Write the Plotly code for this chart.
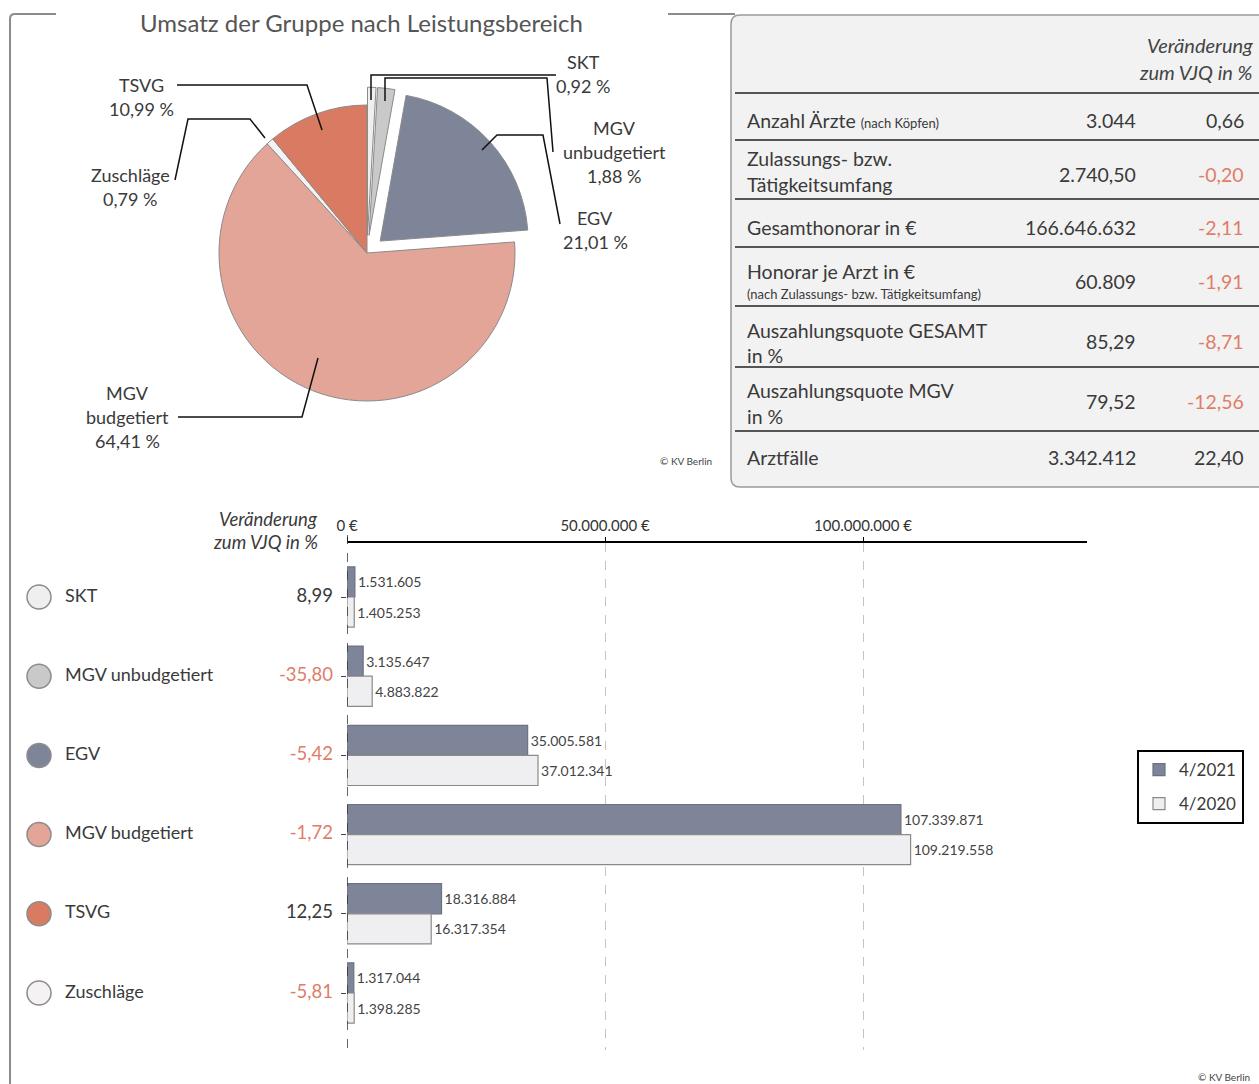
import plotly.graph_objects as go

W, H = 1259, 1084
FONT = "Lato"


def px(x):
    return x / W


def py(y):
    return 1 - y / H


def P(x, y):
    return f"{px(x):.5f},{py(y):.5f}"


# ---------------- data ----------------
pie_labels = ["SKT", "MGV unbudgetiert", "EGV", "MGV budgetiert", "Zuschläge", "TSVG"]
pie_shares = [0.92, 1.88, 21.01, 64.41, 0.79, 10.99]
pie_share_text = ["0,92 %", "1,88 %", "21,01 %", "64,41 %", "0,79 %", "10,99 %"]

categories = ["SKT", "MGV unbudgetiert", "EGV", "MGV budgetiert", "TSVG", "Zuschläge"]
values_2021 = [1531605, 3135647, 35005581, 107339871, 18316884, 1317044]
values_2020 = [1405253, 4883822, 37012341, 109219558, 16317354, 1398285]
change_pct = ["8,99", "-35,80", "-5,42", "-1,72", "12,25", "-5,81"]
series_names = ["4/2021", "4/2020"]
x_tick_vals = [0, 50000000, 100000000]
x_tick_text = ["0 €", "50.000.000 €", "100.000.000 €"]

table_labels = [
    ["Anzahl Ärzte <span style='font-size:13px'>(nach Köpfen)</span>"],
    ["Zulassungs- bzw.", "Tätigkeitsumfang"],
    ["Gesamthonorar in €"],
    ["Honorar je Arzt in €", "<span style='font-size:13px'>(nach Zulassungs- bzw. Tätigkeitsumfang)</span>"],
    ["Auszahlungsquote GESAMT", "in %"],
    ["Auszahlungsquote MGV", "in %"],
    ["Arztfälle"],
]
table_values = ["3.044", "2.740,50", "166.646.632", "60.809", "85,29", "79,52", "3.342.412"]
table_changes = ["0,66", "-0,20", "-2,11", "-1,91", "-8,71", "-12,56", "22,40"]

# ---------------- styles / layout positions ----------------
pie_colors = {"SKT": "#efefef", "MGV unbudgetiert": "#c9c9c9", "EGV": "#7f8598",
              "MGV budgetiert": "#e2a598", "Zuschläge": "#f4f2f2", "TSVG": "#d97b62"}
pie_pull = {"SKT": 0.12, "MGV unbudgetiert": 0.12, "EGV": 0.12}
NEG = "#e07d69"
TXT = "#3a3a3a"


def de_num(v):
    return f"{v:,}".replace(",", ".")


fig = go.Figure()

# ---------- pie ----------
pie_r = 148
max_pull = max(pie_pull.values())
box = pie_r * 2 * (1 + max_pull)
cx, cy = 367, 253
fig.add_trace(go.Pie(
    labels=pie_labels, values=pie_shares, sort=False, direction="clockwise", rotation=0,
    marker=dict(colors=[pie_colors[l] for l in pie_labels], line=dict(color="#8a8a8a", width=1)),
    pull=[pie_pull.get(l, 0) for l in pie_labels],
    textinfo="none", hoverinfo="label+percent", showlegend=False, automargin=False,
    domain=dict(x=[px(cx - box / 2), px(cx + box / 2)], y=[py(cy + box / 2), py(cy - box / 2)]),
))

# ---------- bars ----------
bar_fill = ["#7f8598", "#efeff1"]
bar_edge = ["#6c7283", "#8a8a8a"]
for name, vals, fc, ec in zip(series_names, [values_2021, values_2020], bar_fill, bar_edge):
    fig.add_trace(go.Bar(
        orientation="h", y=categories, x=vals, name=name, legendgroup=name,
        marker=dict(color=fc, line=dict(color=ec, width=1.2)),
        text=[de_num(v) for v in vals], textposition="outside",
        textfont=dict(size=14, color="#444", family=FONT), cliponaxis=False,
        xaxis="x2", yaxis="y2",
    ))

circle_colors = [pie_colors[c] for c in categories]
fig.add_trace(go.Scatter(
    x=[39] * len(categories), y=categories, mode="markers", showlegend=False,
    marker=dict(size=24, color=circle_colors, line=dict(color="#8c8c8c", width=1.5)),
    xaxis="x3", yaxis="y2", cliponaxis=False, hoverinfo="skip",
))
fig.add_trace(go.Scatter(
    x=[65] * len(categories), y=categories, mode="text", text=categories,
    textposition="middle right", showlegend=False,
    textfont=dict(size=18, color=TXT, family=FONT),
    xaxis="x3", yaxis="y2", cliponaxis=False, hoverinfo="skip",
))
fig.add_trace(go.Scatter(
    x=[333] * len(categories), y=categories, mode="text", text=change_pct,
    textposition="middle left", showlegend=False,
    textfont=dict(size=18.5, family=FONT,
                  color=[NEG if c.startswith("-") else TXT for c in change_pct]),
    xaxis="x3", yaxis="y2", cliponaxis=False, hoverinfo="skip",
))

# ---------- shapes ----------
shapes = []
# outer frame (left)
shapes.append(dict(type="path", xref="paper", yref="paper",
                   path=f"M {P(56,14)} L {P(15,14)} Q {P(10,14)} {P(10,19)} L {P(10,1095)}",
                   line=dict(color="#8c8c8c", width=2)))
shapes.append(dict(type="line", xref="paper", yref="paper", x0=px(668), x1=px(735),
                   y0=py(14), y1=py(14), line=dict(color="#8c8c8c", width=2)))
# table box
shapes.append(dict(type="path", xref="paper", yref="paper",
                   path=(f"M {P(740,15)} L {P(1300,15)} L {P(1300,487)} L {P(740,487)} "
                         f"Q {P(731,487)} {P(731,478)} L {P(731,24)} Q {P(731,15)} {P(740,15)} Z"),
                   fillcolor="#f2f2f2", line=dict(color="#9a9a9a", width=1.5), layer="below"))
table_line_y = [93, 140, 199, 247, 306, 367, 431]
for yy in table_line_y:
    shapes.append(dict(type="line", xref="paper", yref="paper", x0=px(735), x1=px(1262),
                       y0=py(yy), y1=py(yy), line=dict(color="#555", width=2)))

# pie leader lines
leaders = {
    "SKT": [(371, 100), (371, 75), (556, 75)],
    "MGV unbudgetiert": [(385, 101), (385, 78), (547, 78), (553, 152)],
    "EGV": [(482, 150), (497, 135), (543, 135), (560, 224)],
    "MGV budgetiert": [(318, 358), (302, 417), (178, 417)],
    "Zuschläge": [(265, 138), (250, 119), (188, 119), (175, 180)],
    "TSVG": [(322, 130), (307, 85), (177, 85)],
}
for lab in pie_labels:
    pts = leaders[lab]
    path = "M " + " L ".join(P(x, y) for x, y in pts)
    shapes.append(dict(type="path", xref="paper", yref="paper", path=path,
                       line=dict(color="#111", width=1.5)))

# dashed y axis line of bar chart
shapes.append(dict(type="line", xref="x2", yref="paper", x0=0, x1=0,
                   y0=py(535), y1=py(1050), line=dict(color="#333", width=1.5, dash="dash")))

# ---------- annotations ----------
ann = []


def text(x, y, s, size, color=TXT, xanchor="center", italic=False):
    if italic:
        s = f"<i>{s}</i>"
    ann.append(dict(x=px(x), y=py(y), xref="paper", yref="paper", text=s, showarrow=False,
                    xanchor=xanchor, yanchor="middle", font=dict(size=size, color=color, family=FONT)))


text(361, 23, "Umsatz der Gruppe nach Leistungsbereich", 24, color="#555")

pie_label_pos = {"SKT": (583, 62), "MGV unbudgetiert": (614, 128), "EGV": (595, 218),
                 "MGV budgetiert": (128, 393), "Zuschläge": (130, 175), "TSVG": (141, 85)}
for lab, share in zip(pie_labels, pie_share_text):
    x0, y0 = pie_label_pos[lab]
    lines = lab.split(" ") + [share]
    for i, ln in enumerate(lines):
        text(x0, y0 + 24 * i, ln, 18)

text(686, 461, "© KV Berlin", 10, color="#444")
text(1196, 1077, "© KV Berlin", 10, color="#444", xanchor="left")

# table
text(1255, 45, "Veränderung", 20, color="#444", xanchor="right", italic=True)
text(1255, 72, "zum VJQ in %", 20, color="#444", xanchor="right", italic=True)
value_y = [120, 175, 227, 282, 341, 402, 457]
label_y = [[120], [158, 184], [227], [271, 294], [330, 355], [390, 416], [457]]
for lines, ys, val, chg, vy in zip(table_labels, label_y, table_values, table_changes, value_y):
    for ln, ly in zip(lines, ys):
        text(745, ly, ln, 19.5, xanchor="left")
    text(1138, vy, val, 19.5, xanchor="right")
    text(1246, vy, chg, 19.5, color=NEG if chg.startswith("-") else TXT, xanchor="right")

# bar chart header
text(320, 519, "Veränderung", 18.5, xanchor="right", italic=True)
text(320, 542, "zum VJQ in %", 18.5, xanchor="right", italic=True)

# ---------- layout ----------
cat_top = -(597 - 543) / 79.2
cat_bot = 5 + (1050 - 993) / 79.2
fig.update_layout(
    template="none",
    width=W, height=H, autosize=False,
    margin=dict(l=0, r=0, t=0, b=0, pad=0),
    paper_bgcolor="white", plot_bgcolor="rgba(0,0,0,0)",
    font=dict(family=FONT, color=TXT),
    barmode="group", bargap=0.24, bargroupgap=0,
    shapes=shapes, annotations=ann,
    legend=dict(x=px(1137), y=py(750), xanchor="left", yanchor="top",
                bordercolor="black", borderwidth=2, bgcolor="white", tracegroupgap=9,
                font=dict(size=17, color=TXT, family=FONT), traceorder="grouped"),
    xaxis2=dict(domain=[px(347), px(1087)], anchor="y2", side="top", range=[0, 143.4e6],
                tickvals=x_tick_vals, ticktext=x_tick_text, tickfont=dict(size=15, color="#333"),
                showline=True, linecolor="black", linewidth=1.5, ticks="outside", ticklen=4,
                tickcolor="black", showgrid=True, gridcolor="#c4c4c4", griddash="dash",
                zeroline=False, fixedrange=True, automargin=False),
    yaxis2=dict(domain=[py(1050), py(543)], anchor="x2", type="category",
                categoryorder="array", categoryarray=categories, range=[cat_bot, cat_top],
                showgrid=False, showline=False, zeroline=False, showticklabels=False,
                ticks="outside", ticklen=5, tickcolor="#444", fixedrange=True, automargin=False),
    xaxis3=dict(domain=[0, px(340)], anchor="y2", range=[0, 340], visible=False,
                fixedrange=True, automargin=False),
)

fig.write_html("out.html")
